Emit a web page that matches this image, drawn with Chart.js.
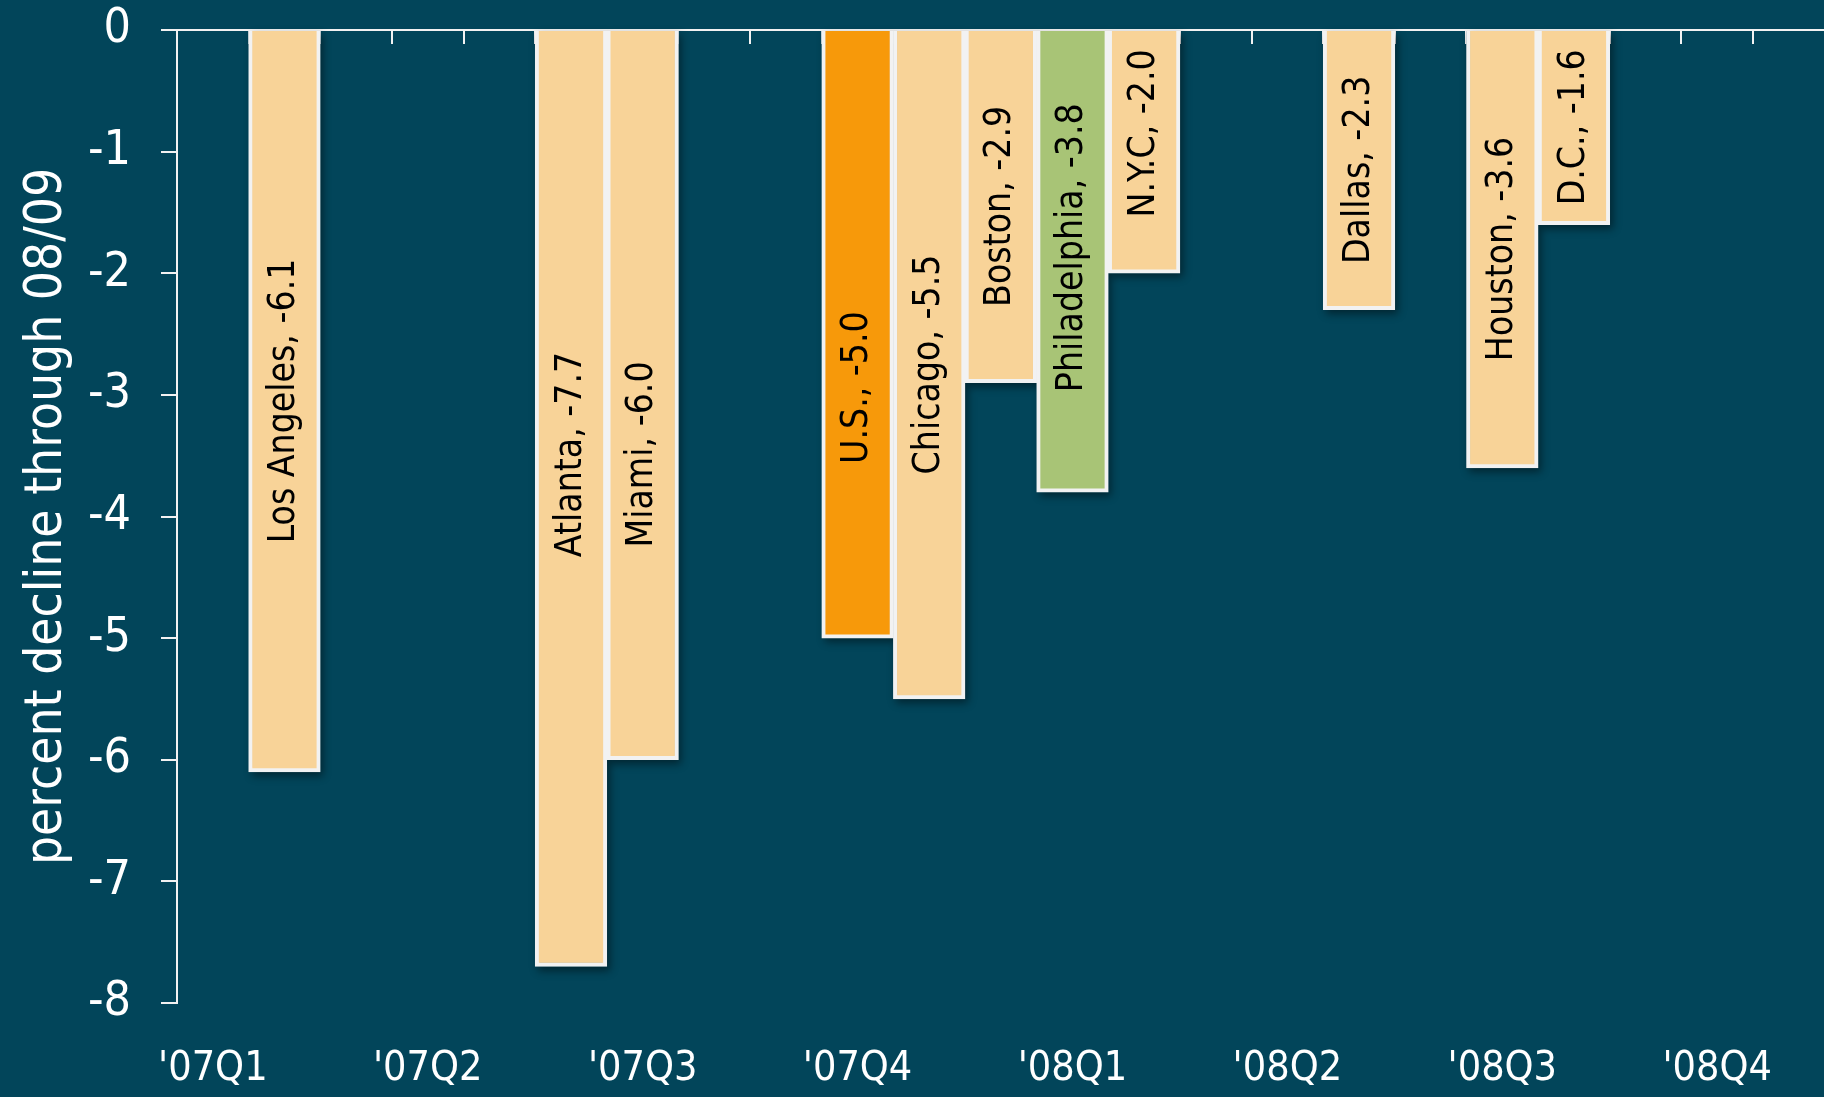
<!DOCTYPE html>
<html>
<head>
<meta charset="utf-8">
<title>Percent decline through 08/09</title>
<script src="https://cdn.jsdelivr.net/npm/chart.js@4/dist/chart.umd.min.js"></script>
<style>
  html, body { margin: 0; padding: 0; background: #02455A; overflow: hidden; }
  #wrap { width: 1824px; height: 1097px; overflow: hidden; position: relative; }
  canvas { display: block; }
</style>
</head>
<body>
<div id="wrap"><canvas id="chart" width="1831" height="1097"></canvas></div>
<script>
// Monthly slots along the time axis
const months = [
  'Jan 07','Feb 07','Mar 07','Apr 07','May 07','Jun 07','Jul 07','Aug 07','Sep 07','Oct 07','Nov 07','Dec 07',
  'Jan 08','Feb 08','Mar 08','Apr 08','May 08','Jun 08','Jul 08','Aug 08','Sep 08','Oct 08','Nov 08'
];
// Quarter labels shown under the first month of each quarter
const quarterLabels = ["'07Q1", "'07Q2", "'07Q3", "'07Q4", "'08Q1", "'08Q2", "'08Q3", "'08Q4"];

// Cities, the month each is placed at, and percent decline through 08/09
const cities     = ['Los Angeles', 'Atlanta', 'Miami', 'U.S.', 'Chicago', 'Boston', 'Philadelphia', 'N.Y.C', 'Dallas', 'Houston', 'D.C.'];
const cityMonths = ['Feb 07', 'Jun 07', 'Jul 07', 'Oct 07', 'Nov 07', 'Dec 07', 'Jan 08', 'Feb 08', 'May 08', 'Jul 08', 'Aug 08'];
const declines   = [-6.1, -7.7, -6.0, -5.0, -5.5, -2.9, -3.8, -2.0, -2.3, -3.6, -1.6];

// Styling
const FONT = '"DejaVu Sans Condensed", "Liberation Sans", Arial, sans-serif';
const BG = '#02455A';
const AXIS = '#F2F2F2';
const TAN = '#F8D398';
const highlight = { 'U.S.': '#F7990A', 'Philadelphia': '#A8C476' };
// label centre offsets in axis units, relative to the middle of each bar
const labelNudge = { 'Atlanta': 0.36, 'Miami': -0.49, 'U.S.': -0.44, 'Philadelphia': 0.11, 'N.Y.C': 0.15 };

// One value per month slot (null where no city sits)
const slotCity = months.map(m => { const i = cityMonths.indexOf(m); return i < 0 ? null : cities[i]; });
const slotValue = months.map(m => { const i = cityMonths.indexOf(m); return i < 0 ? null : declines[i]; });
const slotColor = slotCity.map(c => (c && highlight[c]) || TAN);

Chart.defaults.font.family = FONT;

// Soft drop shadow under each bar
const barShadow = {
  id: 'barShadow',
  beforeDatasetsDraw(chart) {
    const ctx = chart.ctx;
    const meta = chart.getDatasetMeta(0);
    ctx.save();
    ctx.shadowColor = 'rgba(0,0,0,0.45)';
    ctx.shadowBlur = 8;
    ctx.shadowOffsetX = 3;
    ctx.shadowOffsetY = 4;
    ctx.fillStyle = BG;
    meta.data.forEach((bar, i) => {
      if (slotValue[i] == null) return;
      const { x, y, base, width } = bar.getProps(['x', 'y', 'base', 'width'], true);
      ctx.fillRect(x - width / 2, Math.min(y, base), width, Math.abs(base - y));
    });
    ctx.restore();
  }
};

// Rotated "City, value" text inside each bar
const barLabels = {
  id: 'barLabels',
  afterDatasetsDraw(chart) {
    const ctx = chart.ctx;
    const meta = chart.getDatasetMeta(0);
    const yScale = chart.scales.y;
    ctx.save();
    ctx.font = '37px ' + FONT;
    ctx.fillStyle = '#000';
    ctx.textAlign = 'center';
    ctx.textBaseline = 'middle';
    meta.data.forEach((bar, i) => {
      const v = slotValue[i];
      if (v == null) return;
      const name = slotCity[i];
      const cy = yScale.getPixelForValue(v / 2 + (labelNudge[name] || 0));
      ctx.save();
      ctx.translate(bar.x, cy);
      ctx.rotate(-Math.PI / 2);
      ctx.fillText(name + ', ' + v.toFixed(1), 0, 0);
      ctx.restore();
    });
    ctx.restore();
  }
};

new Chart(document.getElementById('chart'), {
  type: 'bar',
  data: {
    labels: months,
    datasets: [{
      data: slotValue,
      backgroundColor: slotColor,
      borderColor: AXIS,
      borderWidth: 4,
      barPercentage: 1,
      categoryPercentage: 1
    }]
  },
  options: {
    responsive: false,
    animation: false,
    devicePixelRatio: 1,
    layout: { padding: { top: 0, right: 0, bottom: 0, left: 0 } },
    plugins: { legend: { display: false }, tooltip: { enabled: false } },
    scales: {
      x: {
        position: 'bottom',
        grid: { display: false, drawTicks: false },
        border: { display: false },
        ticks: {
          autoSkip: false,
          maxRotation: 0,
          minRotation: 0,
          padding: 42,
          color: '#FFFFFF',
          font: { size: 41 },
          callback: (val, i) => (i % 3 === 0 ? quarterLabels[i / 3] : '')
        },
        afterFit: s => { s.height = 94; }
      },
      x2: {
        type: 'category',
        position: 'top',
        offset: true,
        z: 1,
        grid: { offset: true, drawOnChartArea: false, drawTicks: true, tickLength: -14, color: AXIS, lineWidth: 2 },
        border: { display: true, color: AXIS, width: 2 },
        ticks: { display: false },
        afterFit: s => { s.height = 0; }
      },
      y: {
        min: -8,
        max: 0,
        position: 'left',
        ticks: { stepSize: 1, padding: 30, color: '#FFFFFF', font: { size: 48 } },
        grid: { drawOnChartArea: false, drawTicks: true, tickLength: 16, color: AXIS, lineWidth: 2 },
        border: { display: true, color: AXIS, width: 2 },
        title: {
          display: true,
          text: 'percent decline through 08/09',
          color: '#FFFFFF',
          font: { size: 51 },
          padding: { top: 17, bottom: 0 }
        },
        afterFit: s => { s.width = 177; s.paddingTop = 30; s.paddingBottom = 30; }
      }
    }
  },
  plugins: [barShadow, barLabels]
});
</script>
</body>
</html>
